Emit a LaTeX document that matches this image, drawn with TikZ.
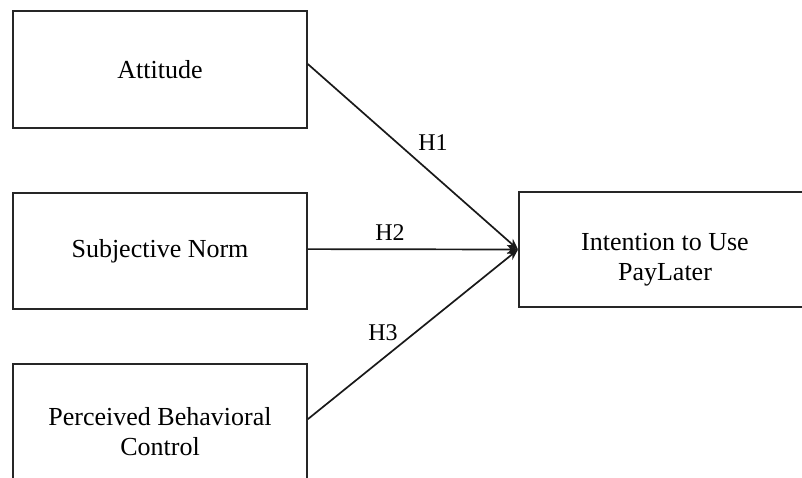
\documentclass[tikz,border=0pt]{standalone}
\usepackage{fontspec}
\setmainfont{Liberation Serif}
\usetikzlibrary{arrows.meta,calc}
\begin{document}
\begin{tikzpicture}[x=1pt,y=-1pt,
  box/.style={draw=black!85,line width=1.8pt,rectangle,inner sep=0pt,align=center,
    font=\fontsize{26}{30}\selectfont},
  link/.style={draw=black!90,line width=1.7pt,-{Stealth[length=11pt,width=9pt]}},
  hyp/.style={font=\fontsize{24}{28}\selectfont,inner sep=0pt}]
\useasboundingbox (0,0) rectangle (802,477);
\begin{scope}
\clip (0,0) rectangle (802,477);
\node[box,minimum width=294pt,minimum height=117pt] (att) at (160,69.5) {Attitude};
\node[box,minimum width=294pt,minimum height=116pt] (sn) at (160,251) {Subjective Norm};
\node[box,minimum width=294pt,minimum height=136pt] (pbc) at (160,432) {Perceived Behavioral\\Control};
\node[box,minimum width=300pt,minimum height=115pt] (int) at (669,249.5) {};
\node[font=\fontsize{26}{30}\selectfont,align=center,inner sep=0pt] (inttext) at (665,260) {Intention to Use\\PayLater};
\coordinate (s1) at ($(att.north east)+(0,54)$);
\coordinate (s2) at ($(sn.north east)+(0,57)$);
\coordinate (s3) at ($(pbc.north east)+(0,56)$);
\draw[link] (s1) -- (int.west);
\draw[link] (s2) -- (int.west);
\draw[link] (s3) -- (int.west);
\node[hyp] (h1) at (433,143) {H1};
\node[hyp] (h2) at (390,233) {H2};
\node[hyp] (h3) at (383,333) {H3};
\end{scope}
\end{tikzpicture}
\end{document}
